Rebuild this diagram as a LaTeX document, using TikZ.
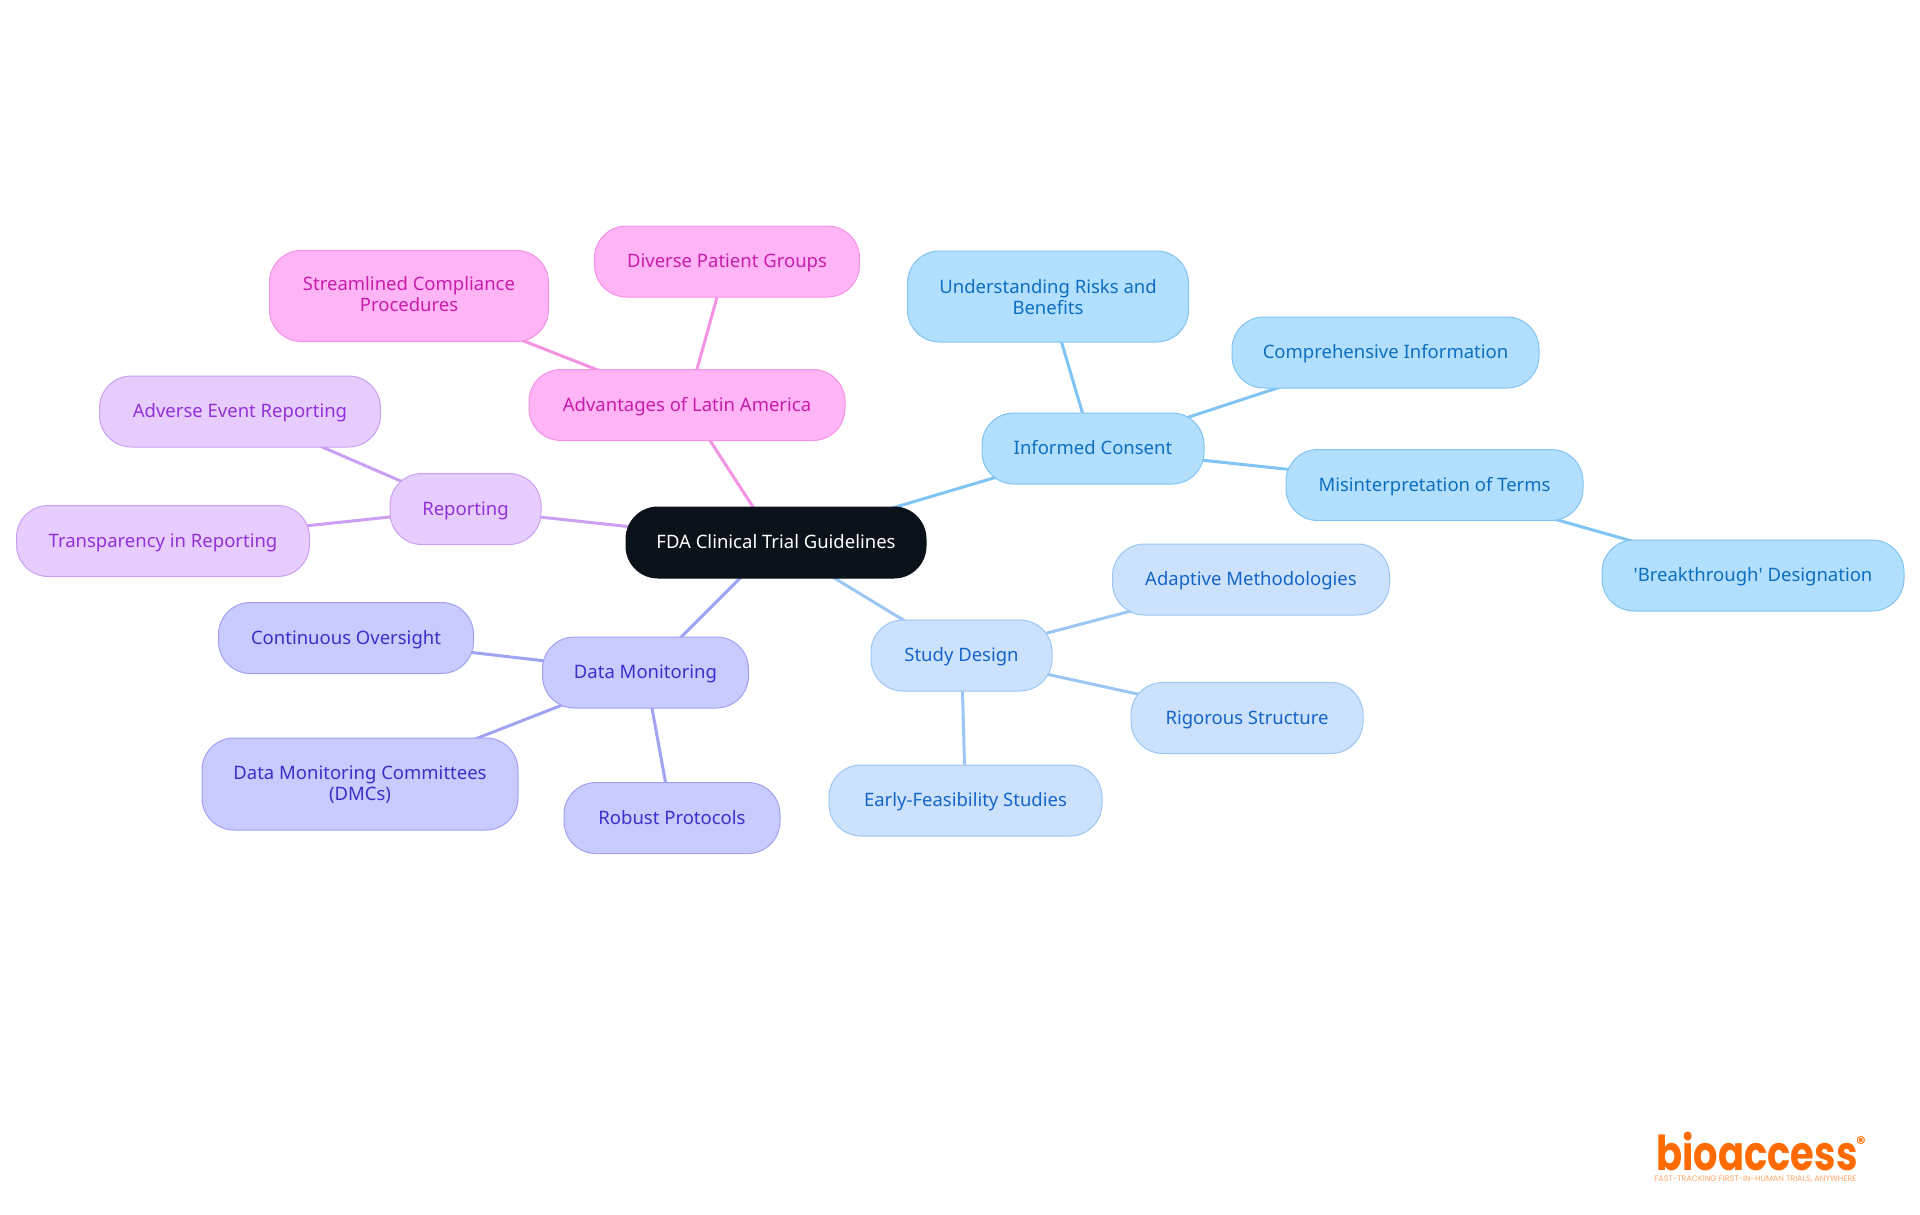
\documentclass[tikz,border=0pt]{standalone}
\usepackage{fontspec}
\setmainfont{Noto Sans}
\newfontfamily\logofont{Poppins}
\usetikzlibrary{backgrounds}

\definecolor{rootfill}{HTML}{0B1219}
\definecolor{consentfill}{HTML}{B3DFFF}
\definecolor{consentline}{HTML}{7FC4F3}
\definecolor{consenttext}{HTML}{0B6FBE}
\definecolor{studyfill}{HTML}{CCE2FC}
\definecolor{studyline}{HTML}{9CC6F3}
\definecolor{studytext}{HTML}{1565C8}
\definecolor{monitorfill}{HTML}{C9CBFE}
\definecolor{monitorline}{HTML}{A0A3F2}
\definecolor{monitortext}{HTML}{3A30C8}
\definecolor{reportfill}{HTML}{E7CDFE}
\definecolor{reportline}{HTML}{CBA0F2}
\definecolor{reporttext}{HTML}{9331D6}
\definecolor{latamfill}{HTML}{FFB5F5}
\definecolor{latamline}{HTML}{F492E4}
\definecolor{latamtext}{HTML}{C71DAB}
\definecolor{logoorange}{HTML}{FF6B00}

\tikzset{
  topic/.style={rounded corners=32pt, inner sep=0pt, line width=1pt, align=center,
    text height=16pt, text depth=4pt, font=\fontsize{18.5}{21}\selectfont},
  twolines/.style={text height=, text depth=4pt},
  root/.style={topic, fill=rootfill, draw=rootfill, text=white},
  consent/.style={topic, fill=consentfill, draw=consentline, text=consenttext},
  study/.style={topic, fill=studyfill, draw=studyline, text=studytext},
  monitor/.style={topic, fill=monitorfill, draw=monitorline, text=monitortext},
  report/.style={topic, fill=reportfill, draw=reportline, text=reporttext},
  latam/.style={topic, fill=latamfill, draw=latamline, text=latamtext},
  link/.style={line width=3pt}
}

\begin{document}
\begin{tikzpicture}[x=1pt,y=-1pt]
\useasboundingbox (0,0) rectangle (1920,1215);

% centre
\node[root, minimum width=300pt, minimum height=71pt] (guidelines) at (776,542.5) {FDA Clinical Trial Guidelines};

% informed consent
\node[consent, minimum width=222pt, minimum height=71pt] (informed) at (1093,448.5) {Informed Consent};
\node[consent, twolines, text depth=0pt, minimum width=281pt, minimum height=91pt] (risks) at (1048,296.5) {Understanding Risks and\\Benefits};
\node[consent, minimum width=307pt, minimum height=71pt] (information) at (1385.5,352.5) {Comprehensive Information};
\node[consent, minimum width=297pt, minimum height=71pt] (terms) at (1434.5,485) {Misinterpretation of Terms};
\node[consent, minimum width=302pt, minimum height=71pt] (breakthrough) at (1753,575.5) {\textquotesingle Breakthrough\textquotesingle{} Designation};

% study design
\node[study, minimum width=181pt, minimum height=71pt] (design) at (961.5,655.5) {Study Design};
\node[study, minimum width=277pt, minimum height=71pt] (adaptive) at (1251,579.5) {Adaptive Methodologies};
\node[study, minimum width=232pt, minimum height=71pt] (rigorous) at (1247,718) {Rigorous Structure};
\node[study, minimum width=273pt, minimum height=71pt] (early) at (965.5,800.5) {Early-Feasibility Studies};

% data monitoring
\node[monitor, minimum width=206pt, minimum height=71pt] (monitoring) at (645.5,672.5) {Data Monitoring};
\node[monitor, minimum width=255pt, minimum height=71pt] (oversight) at (346,638) {Continuous Oversight};
\node[monitor, twolines, text depth=1pt, minimum width=316pt, minimum height=92pt] (committees) at (360,784) {Data Monitoring Committees\\(DMCs)};
\node[monitor, minimum width=216pt, minimum height=71pt] (protocols) at (672,818) {Robust Protocols};

% reporting
\node[report, minimum width=151pt, minimum height=71pt] (reporting) at (465.5,509) {Reporting};
\node[report, minimum width=281pt, minimum height=71pt] (adverse) at (240,411.5) {Adverse Event Reporting};
\node[report, minimum width=293pt, minimum height=71pt] (transparency) at (163,541) {Transparency in Reporting};

% latin america
\node[latam, minimum width=316pt, minimum height=71pt] (advantages) at (687,405) {Advantages of Latin America};
\node[latam, twolines, minimum width=279pt, minimum height=91pt] (compliance) at (409,296) {Streamlined Compliance\\Procedures};
\node[latam, minimum width=265pt, minimum height=71pt] (diverse) at (727,261.5) {Diverse Patient Groups};

% connectors
\begin{scope}[on background layer]
\draw[link, consentline] (guidelines.center) -- (informed.center);
\draw[link, consentline] (informed.center) -- (risks.center);
\draw[link, consentline] (informed.center) -- (information.center);
\draw[link, consentline] (informed.center) -- (terms.center);
\draw[link, consentline] (terms.center) -- (breakthrough.center);
\draw[link, studyline] (guidelines.center) -- (design.center);
\draw[link, studyline] (design.center) -- (adaptive.center);
\draw[link, studyline] (design.center) -- (rigorous.center);
\draw[link, studyline] (design.center) -- (early.center);
\draw[link, monitorline] (guidelines.center) -- (monitoring.center);
\draw[link, monitorline] (monitoring.center) -- (oversight.center);
\draw[link, monitorline] (monitoring.center) -- (committees.center);
\draw[link, monitorline] (monitoring.center) -- (protocols.center);
\draw[link, reportline] (guidelines.center) -- (reporting.center);
\draw[link, reportline] (reporting.center) -- (adverse.center);
\draw[link, reportline] (reporting.center) -- (transparency.center);
\draw[link, latamline] (guidelines.center) -- (advantages.center);
\draw[link, latamline] (advantages.center) -- (compliance.center);
\draw[link, latamline] (advantages.center) -- (diverse.center);
\end{scope}

% logo
\node[text=logoorange, inner sep=0pt, anchor=base, xscale=0.8, font=\logofont\bfseries\fontsize{48}{48}\selectfont] (logo) at (1757,1170) {bioaccess};
\node[text=logoorange, inner sep=0pt, font=\logofont\bfseries\fontsize{18}{18}\selectfont] (registered) at (1861,1143) {®};
\node[text=logoorange!60, inner sep=0pt, text height=5pt, text depth=1pt, font=\logofont\fontsize{8}{8}\selectfont] (tagline) at (1755.5,1179) {FAST-TRACKING FIRST-IN-HUMAN TRIALS, ANYWHERE};

\end{tikzpicture}
\end{document}
